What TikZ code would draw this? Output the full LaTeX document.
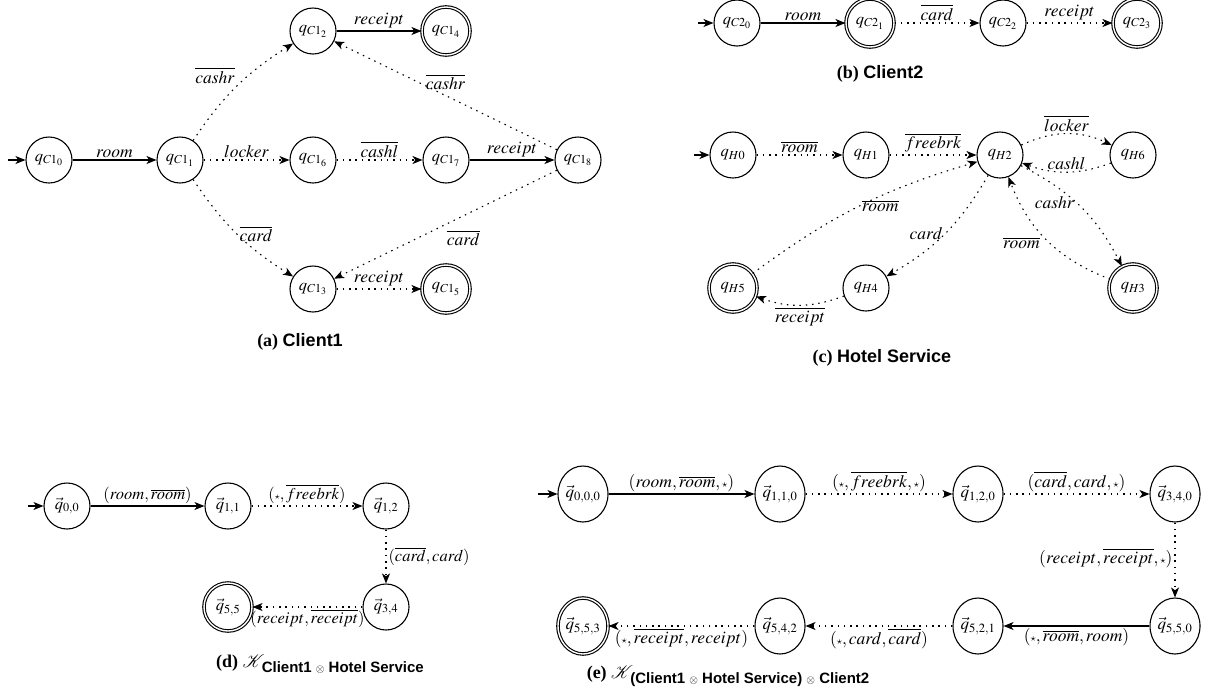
\documentclass[tikz,border=0pt]{standalone}
\usepackage{mathptmx}
\usepackage{fontspec}
\setmainfont{Liberation Serif}
\setsansfont{Liberation Sans}
\usetikzlibrary{arrows.meta,shapes.geometric}
\newcommand{\sst}{{\scriptscriptstyle\star}}
\tikzset{
  st/.style={draw, circle, line width=1.1pt, minimum size=46pt, inner sep=0pt, font=\fontsize{16.5}{18}\selectfont},
  acc/.style={st, double, double distance=1.4pt, minimum size=48pt},
  est/.style={st, ellipse, minimum width=50pt, minimum height=56pt, font=\fontsize{17}{19}\selectfont},
  eacc/.style={est, double, double distance=1.4pt, minimum width=50pt, minimum height=56pt},
  ar/.style={line width=1.1pt, -{Stealth[length=10pt,width=8pt,inset=2.8pt]}},
  dt/.style={ar, dash pattern=on 1.5pt off 4.8pt},
  lab/.style={font=\fontsize{17.5}{19}\selectfont, inner sep=2pt},
  labd/.style={font=\fontsize{16.5}{19}\selectfont, inner sep=2pt},
  labe/.style={font=\fontsize{17.5}{19}\selectfont, inner sep=2pt},
  capt/.style={font=\fontsize{18}{21}\selectfont, inner sep=0pt}
}
\begin{document}
\begin{tikzpicture}[x=1pt,y=1pt]
\useasboundingbox (0,0) rectangle (1217,-689);
% ---------- (a) Client1
\node[st] (C10) at (49,-160) {$q_{C1_0}$};
\node[st] (C11) at (180,-160) {$q_{C1_1}$};
\node[st] (C16) at (313,-160) {$q_{C1_6}$};
\node[st] (C17) at (446,-160) {$q_{C1_7}$};
\node[st] (C18) at (578,-160) {$q_{C1_8}$};
\node[st] (C12) at (313,-31) {$q_{C1_2}$};
\node[acc] (C14) at (446,-31) {$q_{C1_4}$};
\node[st] (C13) at (313,-289) {$q_{C1_3}$};
\node[acc] (C15) at (446,-289) {$q_{C1_5}$};
\coordinate (iC1) at (8,-160);
\draw[ar] (iC1) -- (C10);
\draw[ar] (C10) -- node[lab,above]{$room$} (C11);
\draw[dt] (C11) to[bend left=12] node[lab,pos=0.5,anchor=south east]{$\overline{cashr}$} (C12);
\draw[dt] (C11) -- node[lab,above]{$locker$} (C16);
\draw[dt] (C11) to[bend right=12] node[lab,pos=0.5,anchor=west]{$\overline{card}$} (C13);
\draw[dt] (C16) -- node[lab,above]{$\overline{cashl}$} (C17);
\draw[ar] (C17) -- node[lab,above]{$receipt$} (C18);
\draw[ar] (C12) -- node[lab,above]{$receipt$} (C14);
\draw[dt] (C18) -- node[lab,above=3pt,pos=0.5]{$\overline{cashr}$} (C12);
\draw[dt] (C18) -- node[lab,below=12pt,pos=0.42]{$\overline{card}$} (C13);
\draw[dt] (C13) -- node[lab,above]{$receipt$} (C15);
\node[capt] (capA) at (300,-342) {\textbf{(a)} \textsf{\bfseries Client1}};
% ---------- (b) Client2
\node[st] (C20) at (737,-23) {$q_{C2_0}$};
\node[acc] (C21) at (870,-23) {$q_{C2_1}$};
\node[st] (C22) at (1003,-23) {$q_{C2_2}$};
\node[acc] (C23) at (1137,-23) {$q_{C2_3}$};
\coordinate (iC2) at (698,-23);
\draw[ar] (iC2) -- (C20);
\draw[ar] (C20) -- node[lab,above]{$room$} (C21);
\draw[dt] (C21) -- node[lab,above]{$\overline{card}$} (C22);
\draw[dt] (C22) -- node[lab,above]{$receipt$} (C23);
\node[capt] (capB) at (880,-74) {\textbf{(b)} \textsf{\bfseries Client2}};
% ---------- (c) Hotel Service
\node[st] (H0) at (733,-155) {$q_{H0}$};
\node[st] (H1) at (866,-155) {$q_{H1}$};
\node[st] (H2) at (1000,-155) {$q_{H2}$};
\node[st] (H6) at (1133,-155) {$q_{H6}$};
\node[acc] (H5) at (733,-288) {$q_{H5}$};
\node[st] (H4) at (866,-288) {$q_{H4}$};
\node[acc] (H3) at (1133,-288) {$q_{H3}$};
\coordinate (iH) at (694,-155);
\draw[ar] (iH) -- (H0);
\draw[dt] (H0) -- node[lab,above]{$\overline{room}$} (H1);
\draw[dt] (H1) -- node[lab,above]{$\overline{freebrk}$} (H2);
\draw[dt] (H2) to[bend left=25] node[lab,above]{$\overline{locker}$} (H6);
\draw[dt] (H6) to[bend left=20] node[lab,above]{$cashl$} (H2);
\draw[dt] (H2) to[bend left=15] node[lab,pos=0.5,anchor=east]{$card$} (H4);
\draw[dt] (H5) to[bend left=10] node[lab,pos=0.5,anchor=west]{$\overline{room}$} (H2);
\draw[dt] (H4) to[bend left=20] node[lab,below]{$\overline{receipt}$} (H5);
\draw[dt] (H2) to[bend left=18] node[lab,pos=0.46,anchor=east]{$cashr$} (H3);
\draw[dt] (H3) to[bend left=24] node[lab,pos=0.55,anchor=north east]{$\overline{room}$} (H2);
\node[capt] (capC) at (882,-358) {\textbf{(c)} \textsf{\bfseries Hotel Service}};
% ---------- (d) product
\node[st] (d00) at (67,-506) {$\vec{q}_{0,0}$};
\node[st] (d11) at (228,-506) {$\vec{q}_{1,1}$};
\node[st] (d12) at (386,-506) {$\vec{q}_{1,2}$};
\node[st] (d34) at (386,-607) {$\vec{q}_{3,4}$};
\node[acc] (d55) at (228,-607) {$\vec{q}_{5,5}$};
\coordinate (iD) at (28,-506);
\draw[ar] (iD) -- (d00);
\draw[ar] (d00) -- node[labd,above]{$(room,\overline{room})$} (d11);
\draw[dt] (d11) -- node[labd,above]{$(\sst,\overline{freebrk})$} (d12);
\draw[dt] (d12) -- node[labd,right]{$(\overline{card},card)$} (d34);
\draw[dt] (d34) -- node[labd,below]{$(receipt,\overline{receipt})$} (d55);
\node[capt] (capD) at (320,-664) {\textbf{(d)}~$\mathcal{K}$\kern-3pt\raisebox{-0.3em}{\fontsize{15}{18}\selectfont\sffamily\bfseries Client1 $\scriptstyle\otimes$ Hotel Service}};
% ---------- (e) product
\node[est] (e000) at (583,-494) {$\vec{q}_{0,0,0}$};
\node[est] (e110) at (780,-494) {$\vec{q}_{1,1,0}$};
\node[est] (e120) at (978,-494) {$\vec{q}_{1,2,0}$};
\node[est] (e340) at (1175,-494) {$\vec{q}_{3,4,0}$};
\node[est] (e550) at (1175,-626) {$\vec{q}_{5,5,0}$};
\node[est] (e521) at (978,-626) {$\vec{q}_{5,2,1}$};
\node[est] (e542) at (780,-626) {$\vec{q}_{5,4,2}$};
\node[eacc] (e553) at (583,-626) {$\vec{q}_{5,5,3}$};
\coordinate (iE) at (538,-494);
\draw[ar] (iE) -- (e000);
\draw[ar] (e000) -- node[labe,above]{$(room,\overline{room},\sst)$} (e110);
\draw[dt] (e110) -- node[labe,above]{$(\sst,\overline{freebrk},\sst)$} (e120);
\draw[dt] (e120) -- node[labe,above]{$(\overline{card},card,\sst)$} (e340);
\draw[dt] (e340) -- node[labe,left,pos=0.47]{$(receipt,\overline{receipt},\sst)$} (e550);
\draw[ar] (e550) -- node[labe,below]{$(\sst,\overline{room},room)$} (e521);
\draw[dt] (e521) -- node[labe,below]{$(\sst,card,\overline{card})$} (e542);
\draw[dt] (e542) -- node[labe,below]{$(\sst,\overline{receipt},receipt)$} (e553);
\node[capt] (capE) at (728,-676) {\textbf{(e)}~$\mathcal{K}$\kern-3pt\raisebox{-0.3em}{\fontsize{15}{18}\selectfont\sffamily\bfseries (Client1 $\scriptstyle\otimes$ Hotel Service) $\scriptstyle\otimes$ Client2}};
\end{tikzpicture}
\end{document}
